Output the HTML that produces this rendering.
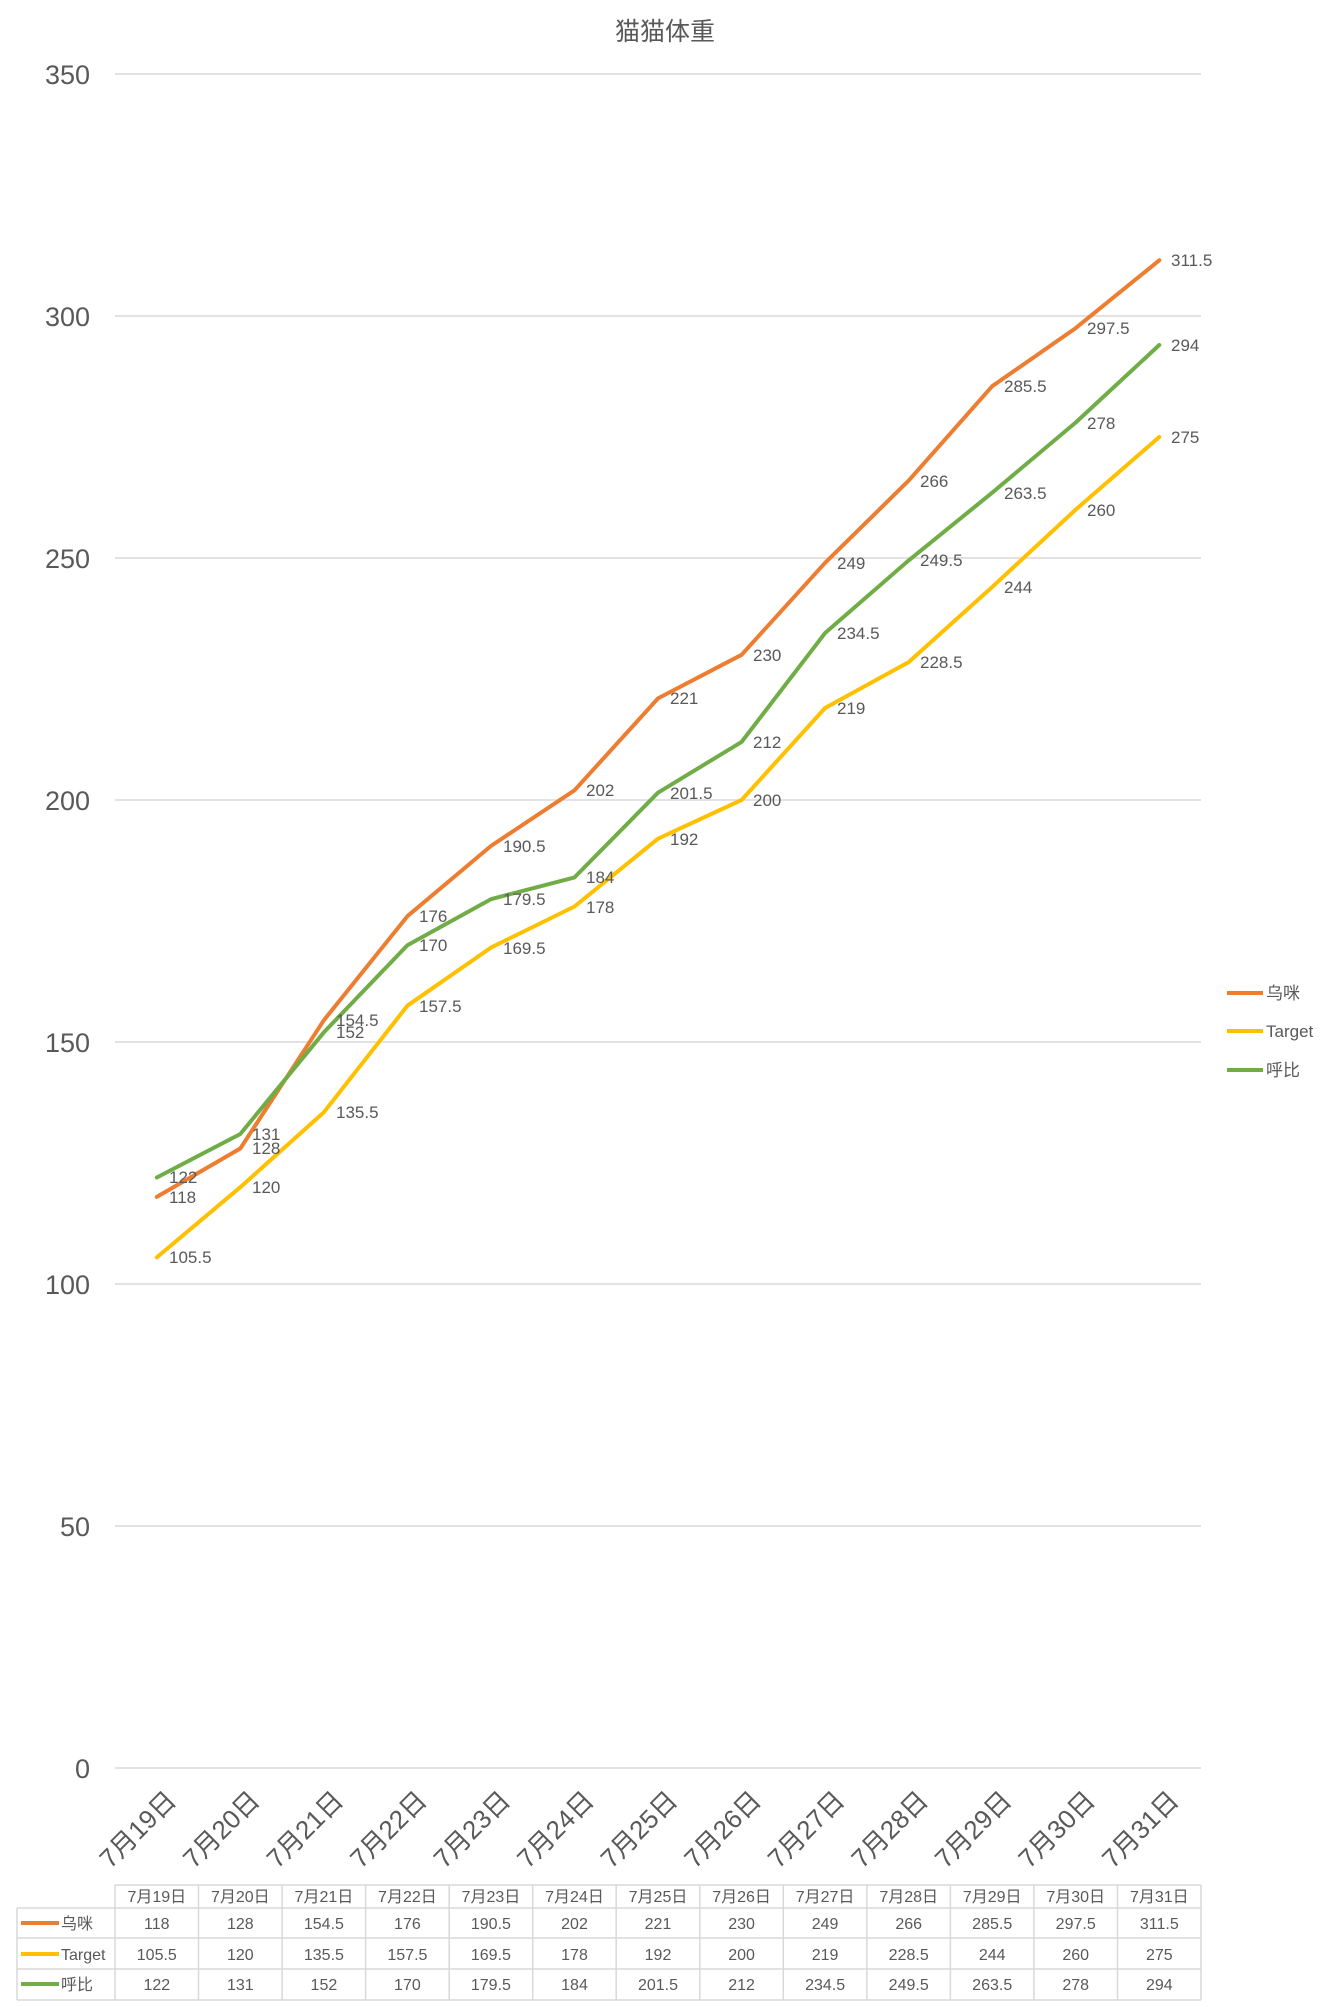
<!DOCTYPE html>
<html><head><meta charset="utf-8"><style>
html,body{margin:0;padding:0;background:#fff}
svg{display:block}
text{font-family:"Liberation Sans","Noto Sans CJK SC",sans-serif;fill:#595959}
</style></head><body>
<svg width="1327" height="2007" viewBox="0 0 1327 2007" xmlns="http://www.w3.org/2000/svg">
<text x="665" y="40" font-size="25" text-anchor="middle">猫猫体重</text>
<g stroke="#d9d9d9" stroke-width="1.5">
<line x1="115" y1="74" x2="1201" y2="74"/>
<line x1="115" y1="316" x2="1201" y2="316"/>
<line x1="115" y1="558" x2="1201" y2="558"/>
<line x1="115" y1="800" x2="1201" y2="800"/>
<line x1="115" y1="1042" x2="1201" y2="1042"/>
<line x1="115" y1="1284" x2="1201" y2="1284"/>
<line x1="115" y1="1526" x2="1201" y2="1526"/>
<line x1="115" y1="1768" x2="1201" y2="1768"/>
</g>
<g font-size="27" text-anchor="end">
<text x="90" y="84">350</text>
<text x="90" y="326">300</text>
<text x="90" y="568">250</text>
<text x="90" y="810">200</text>
<text x="90" y="1052">150</text>
<text x="90" y="1294">100</text>
<text x="90" y="1536">50</text>
<text x="90" y="1778">0</text>
</g>
<g fill="none" stroke-width="4" stroke-linejoin="round" stroke-linecap="round">
<polyline stroke="#FFC000" points="156.8,1257.4 240.3,1187.2 323.9,1112.2 407.4,1005.7 490.9,947.6 574.5,906.5 658,838.7 741.6,800 825.1,708 908.7,662.1 992.2,587 1075.7,509.6 1159.3,437"/>
<polyline stroke="#ED7D31" points="156.8,1196.9 240.3,1148.5 323.9,1020.2 407.4,916.2 490.9,846 574.5,790.3 658,698.4 741.6,654.8 825.1,562.8 908.7,480.6 992.2,386.2 1075.7,328.1 1159.3,260.3"/>
<polyline stroke="#70AD47" points="156.8,1177.5 240.3,1134 323.9,1032.3 407.4,945.2 490.9,899.2 574.5,877.4 658,792.7 741.6,741.9 825.1,633 908.7,560.4 992.2,492.7 1075.7,422.5 1159.3,345"/>
</g>
<g font-size="17" style="fill:#404040">
<text x="169" y="1203">118</text><text x="252" y="1154">128</text><text x="336" y="1026">154.5</text><text x="419" y="922">176</text><text x="503" y="852">190.5</text><text x="586" y="796">202</text><text x="670" y="704">221</text><text x="753" y="661">230</text><text x="837" y="569">249</text><text x="920" y="487">266</text><text x="1004" y="392">285.5</text><text x="1087" y="334">297.5</text><text x="1171" y="266">311.5</text>
<text x="169" y="1263">105.5</text><text x="252" y="1193">120</text><text x="336" y="1118">135.5</text><text x="419" y="1012">157.5</text><text x="503" y="954">169.5</text><text x="586" y="913">178</text><text x="670" y="845">192</text><text x="753" y="806">200</text><text x="837" y="714">219</text><text x="920" y="668">228.5</text><text x="1004" y="593">244</text><text x="1087" y="516">260</text><text x="1171" y="443">275</text>
<text x="169" y="1183">122</text><text x="252" y="1140">131</text><text x="336" y="1038">152</text><text x="419" y="951">170</text><text x="503" y="905">179.5</text><text x="586" y="883">184</text><text x="670" y="799">201.5</text><text x="753" y="748">212</text><text x="837" y="639">234.5</text><text x="920" y="566">249.5</text><text x="1004" y="499">263.5</text><text x="1087" y="429">278</text><text x="1171" y="351">294</text>
</g>
<g font-size="17">
<line x1="1227" y1="993" x2="1263" y2="993" stroke="#ED7D31" stroke-width="4"/><text x="1266" y="999">乌咪</text>
<line x1="1227" y1="1031" x2="1263" y2="1031" stroke="#FFC000" stroke-width="4"/><text x="1266" y="1037">Target</text>
<line x1="1227" y1="1070" x2="1263" y2="1070" stroke="#70AD47" stroke-width="4"/><text x="1266" y="1076">呼比</text>
</g>
<g font-size="26" text-anchor="end">
<text transform="translate(177.8,1802) rotate(-45)">7月19日</text>
<text transform="translate(261.3,1802) rotate(-45)">7月20日</text>
<text transform="translate(344.9,1802) rotate(-45)">7月21日</text>
<text transform="translate(428.4,1802) rotate(-45)">7月22日</text>
<text transform="translate(511.9,1802) rotate(-45)">7月23日</text>
<text transform="translate(595.5,1802) rotate(-45)">7月24日</text>
<text transform="translate(679,1802) rotate(-45)">7月25日</text>
<text transform="translate(762.6,1802) rotate(-45)">7月26日</text>
<text transform="translate(846.1,1802) rotate(-45)">7月27日</text>
<text transform="translate(929.7,1802) rotate(-45)">7月28日</text>
<text transform="translate(1013.2,1802) rotate(-45)">7月29日</text>
<text transform="translate(1096.7,1802) rotate(-45)">7月30日</text>
<text transform="translate(1180.3,1802) rotate(-45)">7月31日</text>
</g>
<g stroke="#d9d9d9" stroke-width="1.5">
<line x1="115" y1="1885" x2="1201" y2="1885"/>
<line x1="17" y1="1908" x2="1201" y2="1908"/>
<line x1="17" y1="1938" x2="1201" y2="1938"/>
<line x1="17" y1="1969" x2="1201" y2="1969"/>
<line x1="17" y1="2000" x2="1201" y2="2000"/>
<line x1="17" y1="1908" x2="17" y2="2000"/>
<line x1="115" y1="1885" x2="115" y2="2000"/>
<line x1="198.5" y1="1885" x2="198.5" y2="2000"/><line x1="282.1" y1="1885" x2="282.1" y2="2000"/><line x1="365.6" y1="1885" x2="365.6" y2="2000"/><line x1="449.2" y1="1885" x2="449.2" y2="2000"/><line x1="532.7" y1="1885" x2="532.7" y2="2000"/><line x1="616.2" y1="1885" x2="616.2" y2="2000"/><line x1="699.8" y1="1885" x2="699.8" y2="2000"/><line x1="783.3" y1="1885" x2="783.3" y2="2000"/><line x1="866.9" y1="1885" x2="866.9" y2="2000"/><line x1="950.4" y1="1885" x2="950.4" y2="2000"/><line x1="1033.9" y1="1885" x2="1033.9" y2="2000"/><line x1="1117.5" y1="1885" x2="1117.5" y2="2000"/><line x1="1201" y1="1885" x2="1201" y2="2000"/>
</g>
<line x1="21" y1="1923" x2="59" y2="1923" stroke="#ED7D31" stroke-width="4"/>
<line x1="21" y1="1954" x2="59" y2="1954" stroke="#FFC000" stroke-width="4"/>
<line x1="21" y1="1984" x2="59" y2="1984" stroke="#70AD47" stroke-width="4"/>
<g font-size="16">
<text x="61" y="1929">乌咪</text><text x="61" y="1960">Target</text><text x="61" y="1990">呼比</text>
</g>
<g font-size="16" text-anchor="middle">
<text x="156.8" y="1902">7月19日</text><text x="240.3" y="1902">7月20日</text><text x="323.9" y="1902">7月21日</text><text x="407.4" y="1902">7月22日</text><text x="490.9" y="1902">7月23日</text><text x="574.5" y="1902">7月24日</text><text x="658" y="1902">7月25日</text><text x="741.6" y="1902">7月26日</text><text x="825.1" y="1902">7月27日</text><text x="908.7" y="1902">7月28日</text><text x="992.2" y="1902">7月29日</text><text x="1075.7" y="1902">7月30日</text><text x="1159.3" y="1902">7月31日</text>
<text x="156.8" y="1929">118</text><text x="240.3" y="1929">128</text><text x="323.9" y="1929">154.5</text><text x="407.4" y="1929">176</text><text x="490.9" y="1929">190.5</text><text x="574.5" y="1929">202</text><text x="658" y="1929">221</text><text x="741.6" y="1929">230</text><text x="825.1" y="1929">249</text><text x="908.7" y="1929">266</text><text x="992.2" y="1929">285.5</text><text x="1075.7" y="1929">297.5</text><text x="1159.3" y="1929">311.5</text>
<text x="156.8" y="1960">105.5</text><text x="240.3" y="1960">120</text><text x="323.9" y="1960">135.5</text><text x="407.4" y="1960">157.5</text><text x="490.9" y="1960">169.5</text><text x="574.5" y="1960">178</text><text x="658" y="1960">192</text><text x="741.6" y="1960">200</text><text x="825.1" y="1960">219</text><text x="908.7" y="1960">228.5</text><text x="992.2" y="1960">244</text><text x="1075.7" y="1960">260</text><text x="1159.3" y="1960">275</text>
<text x="156.8" y="1990">122</text><text x="240.3" y="1990">131</text><text x="323.9" y="1990">152</text><text x="407.4" y="1990">170</text><text x="490.9" y="1990">179.5</text><text x="574.5" y="1990">184</text><text x="658" y="1990">201.5</text><text x="741.6" y="1990">212</text><text x="825.1" y="1990">234.5</text><text x="908.7" y="1990">249.5</text><text x="992.2" y="1990">263.5</text><text x="1075.7" y="1990">278</text><text x="1159.3" y="1990">294</text>
</g>
</svg>
</body></html>
